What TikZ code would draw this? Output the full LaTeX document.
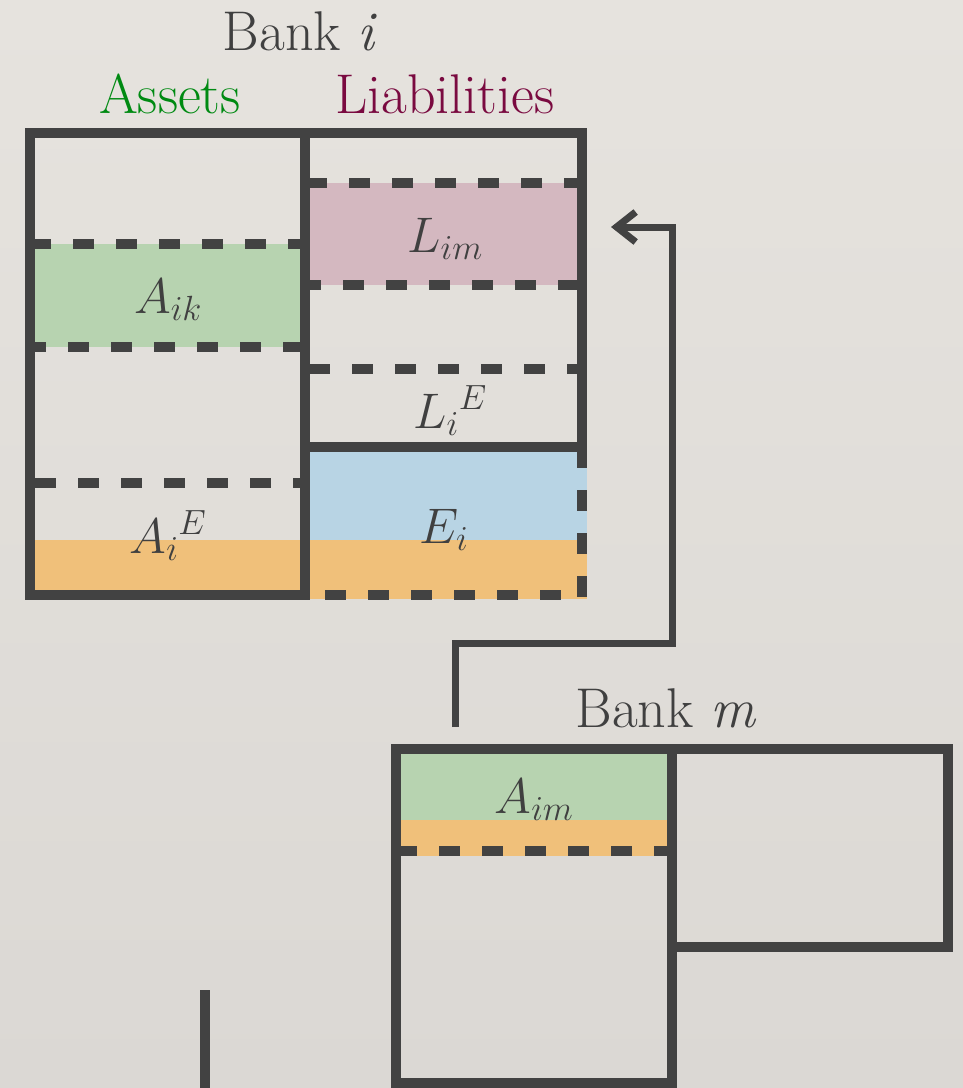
\RequirePackage{fix-cm}
\documentclass[tikz,border=0pt]{standalone}
\usetikzlibrary{arrows.meta}
\definecolor{bgtop}{HTML}{E6E3DE}
\definecolor{bgbot}{HTML}{DBD8D4}
\definecolor{ink}{HTML}{424242}
\definecolor{txt}{HTML}{404040}
\definecolor{agreen}{HTML}{008A12}
\definecolor{lmaroon}{HTML}{7A0A40}
\definecolor{fgreen}{HTML}{B7D3B0}
\definecolor{fpink}{HTML}{D4B8C0}
\definecolor{fblue}{HTML}{B8D4E4}
\definecolor{forange}{HTML}{F0C07A}
\begin{document}
\begin{tikzpicture}[x=1pt,y=-1pt,
  boxline/.style={draw=ink,line width=10pt},
  dashline/.style={draw=ink,line width=10pt,dash pattern=on 21pt off 22pt},
  conn/.style={draw=ink,line width=7pt,line join=miter},
  lbl/.style={text=txt,font=\fontsize{56}{64}\selectfont,anchor=base,inner sep=0pt},
  mlbl/.style={text=txt,font=\fontsize{50}{60}\selectfont,anchor=base,inner sep=0pt},
]
% background
\shade[top color=bgtop,bottom color=bgbot] (0,0) rectangle (963,1088);
\useasboundingbox (0,0) rectangle (963,1088);

% fills
\fill[fgreen] (35,244) rectangle (300,347);
\fill[fpink] (310,183) rectangle (577,285);
\fill[fblue] (310,452) rectangle (587,540);
\fill[forange] (310,540) rectangle (587,599);
\fill[forange] (35,540) rectangle (300,590);
\fill[fgreen] (401,754) rectangle (667,820);
\fill[forange] (401,820) rectangle (667,856);

% bank i
\draw[boxline] (30,133) rectangle (305,595);
\draw[boxline] (305,133) rectangle (582,447);
\draw[dashline] (30,244) -- (305,244);
\draw[dashline] (25,347) -- (305,347);
\draw[dashline] (35,483) -- (300,483);
\draw[dashline] (306,183) -- (582,183);
\draw[dashline] (300,285) -- (582,285);
\draw[dashline] (309,369) -- (582,369);
\draw[dashline] (582,447) -- (582,600);
\draw[dashline,dash phase=23pt] (305,595) -- (582,595);

% bank m
\draw[boxline] (396,749) rectangle (672,1083);
\draw[boxline] (672,749) rectangle (948,947);
\draw[dashline] (396,851) -- (672,851);

% partial line at bottom
\draw[boxline] (205,990) -- (205,1100);

% connector
\coordinate (cstart) at (455,727);
\coordinate (cbend) at (672,643);
\coordinate (ctip) at (611,227);
\draw[conn,-{Straight Barb[length=19pt,width=30pt]}] (cstart) |- (cbend) |- (ctip);

% labels
\node[lbl] (banki) at (300,50) {Bank \textit{i}};
\node[lbl,text=agreen] (assets) at (170,113) {Assets};
\node[lbl,text=lmaroon] (liab) at (445,113) {Liabilities};
\node[mlbl] (lim) at (445,252) {$L_{im}$};
\node[mlbl] (aik) at (168,313) {$A_{ik}$};
\node[mlbl] (lie) at (450,428) {$L_i{}^E$};
\node[mlbl] (aie) at (168,553) {$A_i{}^E$};
\node[mlbl] (ei) at (444,543) {$E_i$};
\node[lbl] (bankm) at (666,727) {Bank \textit{m}};
\node[mlbl] (aim) at (534,813) {$A_{im}$};
\end{tikzpicture}
\end{document}
